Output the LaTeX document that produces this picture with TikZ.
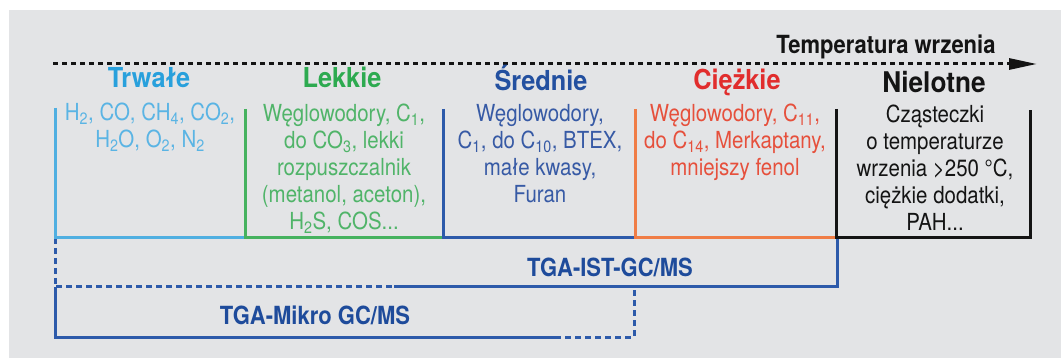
\documentclass[tikz,border=0pt]{standalone}
\usepackage{fontspec}
\setmainfont{TeX Gyre Heros}
\newfontfamily\bodyfont[FakeStretch=0.87]{TeX Gyre Heros}
\newfontfamily\condfont[FakeStretch=0.88]{TeX Gyre Heros}
\newfontfamily\titlefont[FakeStretch=0.92]{TeX Gyre Heros}
\usetikzlibrary{arrows.meta}
\definecolor{bg}{RGB}{227,228,230}
\definecolor{lbT}{RGB}{40,160,220}
\definecolor{lbB}{RGB}{90,180,228}
\definecolor{lbL}{RGB}{80,175,225}
\definecolor{grT}{RGB}{45,170,80}
\definecolor{grB}{RGB}{80,180,105}
\definecolor{grL}{RGB}{70,178,95}
\definecolor{dbT}{RGB}{35,80,160}
\definecolor{dbB}{RGB}{55,90,165}
\definecolor{dbL}{RGB}{45,90,170}
\definecolor{rdT}{RGB}{225,45,45}
\definecolor{rdB}{RGB}{230,80,60}
\definecolor{orL}{RGB}{240,125,70}
\definecolor{bkT}{RGB}{20,20,20}
\definecolor{lblB}{RGB}{30,75,155}
\tikzset{
  coltitle/.style={font=\titlefont\fontsize{27.5}{29}\selectfont\bfseries, anchor=base, inner sep=0pt},
  bodytext/.style={font=\bodyfont\fontsize{23.5}{27}\selectfont, align=center, anchor=north, inner sep=0pt},
  colline/.style={line width=3pt},
  dashline/.style={line width=3pt, dash pattern=on 6pt off 4pt},
  boxlabel/.style={font=\condfont\fontsize{25}{27}\selectfont\bfseries, anchor=base, inner sep=0pt},
}
\begin{document}
\begin{tikzpicture}[x=1pt,y=-1pt]
\useasboundingbox (0,0) rectangle (1061,358);
\fill[white] (0,0) rectangle (1061,358);
\fill[bg] (9,10) rectangle (1061,358);

% axis
\coordinate (a0) at (53,64);
\coordinate (a1) at (1037,64);
\draw[line width=3pt, dash pattern=on 5pt off 4pt, bkT, -{Triangle[length=28pt,width=11pt]}] (a0) -- (a1);
\node[boxlabel, text=bkT] (temp) at (886,54) {Temperatura wrzenia};

% column coordinates
\coordinate (c0t) at (55,108);  \coordinate (c0b) at (55,238);
\coordinate (c1t) at (245,109); \coordinate (c1b) at (245,238);
\coordinate (c2t) at (443,109); \coordinate (c2b) at (443,238);
\coordinate (c3t) at (635,109); \coordinate (c3b) at (635,238);
\coordinate (c4t) at (836,109); \coordinate (c4b) at (836,238);
\coordinate (c5t) at (1030,110); \coordinate (c5b) at (1030,238);

% TGA-IST box
\coordinate (i0) at (55,287);
\coordinate (i1) at (394,287);
\coordinate (i2) at (837,287);
\coordinate (i3) at (837,238);
\draw[dashline, dbL] (c0b) -- (i0) -- (i1);
\draw[colline, dbL] (i1) -- (i2) -- (i3);

% TGA-Mikro box
\coordinate (m0) at (55,337);
\coordinate (m1) at (555,337);
\coordinate (m2) at (634,337);
\coordinate (m3) at (634,287);
\draw[colline, dbL] (i0) -- (m0) -- (m1);
\draw[dashline, dbL] (m1) -- (m2) -- (m3);

% columns
\draw[colline, lbL] (c0t) -- (c0b) -- (c1b);
\draw[colline, grL] (c1t) -- (c1b) -- (c2b);
\draw[colline, dbL] (c2t) -- (c2b) -- (c3b);
\draw[colline, orL] (c3t) -- (c3b) -- (c4b);
\draw[colline, bkT] (c4t) -- (c4b) -- (c5b) -- (c5t);

% titles
\node[coltitle, text=lbT] (t0) at (149,88) {Trwałe};
\node[coltitle, text=grT] (t1) at (342,88) {Lekkie};
\node[coltitle, text=dbT] (t2) at (541,91) {Średnie};
\node[coltitle, text=rdT] (t3) at (737,90) {Ciężkie};
\node[coltitle, text=bkT, font=\titlefont\fontsize{28.5}{30}\selectfont\bfseries] (t4) at (934,93) {Nielotne};

% bodies
\node[bodytext, text=lbB] (b0) at (150,103) {H\textsubscript{2}, CO, CH\textsubscript{4}, CO\textsubscript{2},\\H\textsubscript{2}O, O\textsubscript{2}, N\textsubscript{2}};
\node[bodytext, text=grB] (b1) at (344,104) {Węglowodory, C\textsubscript{1},\\do CO\textsubscript{3}, lekki\\rozpuszczalnik\\(metanol, aceton),\\H\textsubscript{2}S, COS...};
\node[bodytext, text=dbB] (b2) at (540,104) {Węglowodory,\\C\textsubscript{1}, do C\textsubscript{10}, BTEX,\\małe kwasy,\\Furan};
\node[bodytext, text=rdB] (b3) at (735,104) {Węglowodory, C\textsubscript{11},\\do C\textsubscript{14}, Merkaptany,\\mniejszy fenol};
\node[bodytext, text=bkT] (b4) at (935,105) {Cząsteczki\\o temperaturze\\wrzenia >250 °C,\\ciężkie dodatki,\\PAH...};

% box labels
\node[boxlabel, text=lblB] (ist) at (610,277) {TGA-IST-GC/MS};
\node[boxlabel, text=lblB] (mikro) at (315,324) {TGA-Mikro GC/MS};
\end{tikzpicture}
\end{document}
